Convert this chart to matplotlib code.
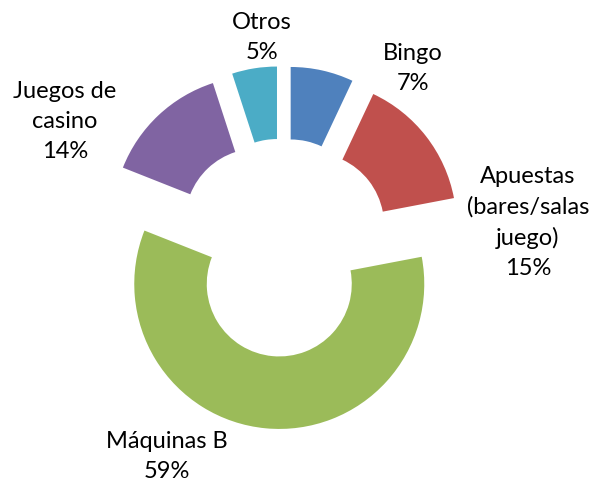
import matplotlib.pyplot as plt

# data
categories = ['Bingo', 'Apuestas\n(bares/salas\njuego)', 'Máquinas B', 'Juegos de\ncasino', 'Otros']
shares = [7, 15, 59, 14, 5]

colors = ['#4F81BD', '#C0504D', '#9BBB59', '#8064A2', '#4BACC6']
# label anchor (x centre, last-line baseline) in pixels from top-left
label_pos = [(413, 90), (528, 275), (167, 478), (65, 158), (262, 59)]

W, H = 598, 484
fig = plt.figure(figsize=(W / 100, H / 100), dpi=100)
ax = fig.add_axes([0, 0, 1, 1])

R = 145
cx, cy = 282.7, H - 247.6
ax.pie(shares, startangle=90, counterclock=False, radius=R, center=(cx, cy),
       explode=[36.5] * len(shares), colors=colors,
       wedgeprops=dict(width=R / 2, linewidth=0))
ax.set_xlim(0, W)
ax.set_ylim(0, H)
ax.axis('off')

for cat, val, (x, y) in zip(categories, shares, label_pos):
    ax.text(x, H - y, f"{cat}\n{val}%", ha='center', va='baseline',
            multialignment='center', fontsize=17, family='Lato',
            color='#000000', linespacing=1.52)

fig.savefig('out.png', dpi=100)
